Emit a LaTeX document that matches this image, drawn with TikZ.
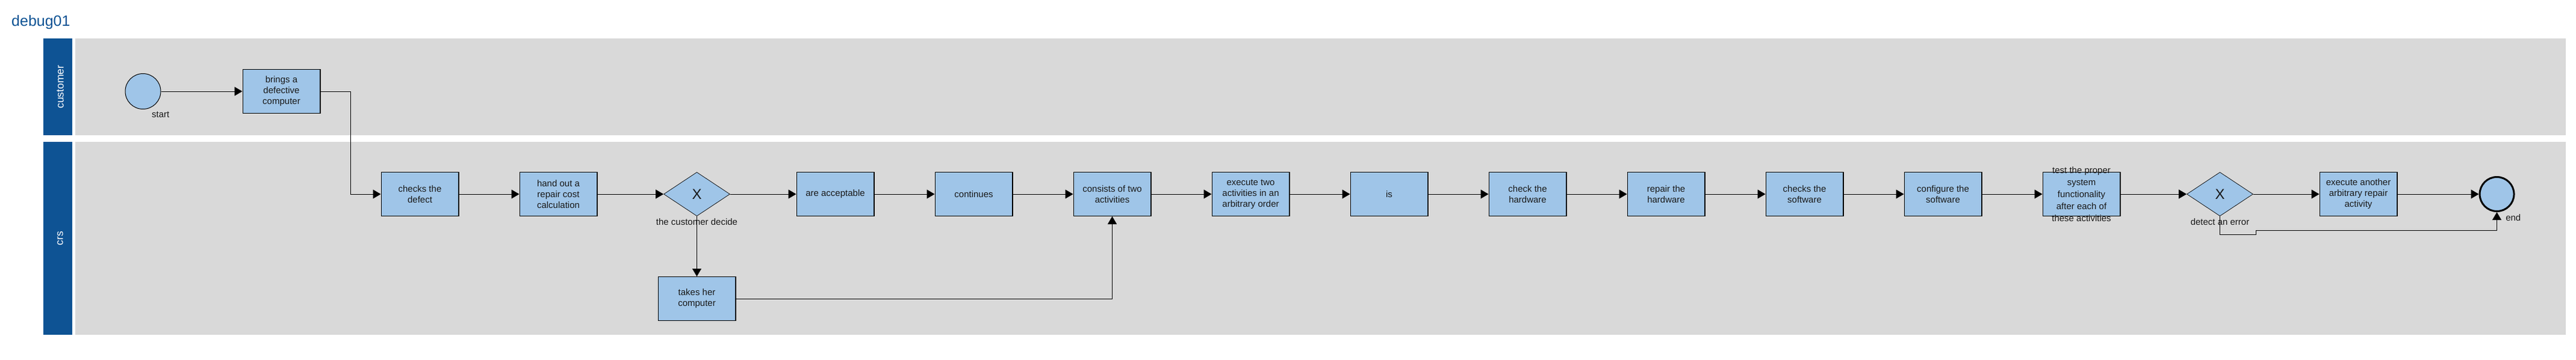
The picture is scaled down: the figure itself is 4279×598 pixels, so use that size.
\documentclass[tikz,border=0pt]{standalone}
\usepackage{fontspec}
\setmainfont{Liberation Sans}
\usetikzlibrary{arrows.meta,shapes.geometric}
\definecolor{laneblue}{RGB}{14,83,148}
\definecolor{lanegray}{RGB}{217,217,217}
\definecolor{taskblue}{RGB}{159,197,232}
\begin{document}
\begin{tikzpicture}[x=1pt,y=-1pt,
  lanehead/.style={fill=laneblue, draw=none},
  lanebody/.style={fill=lanegray, draw=none},
  task/.style={rectangle, draw=black, line width=1.4pt, fill=taskblue, minimum width=128.6pt, minimum height=72.6pt, inner sep=0pt, align=center, font=\fontsize{15}{18}\selectfont, text=black!90},
  gate/.style={diamond, draw=black, line width=0.7pt, fill=taskblue, minimum width=110pt, minimum height=73pt, inner sep=0pt, font=\fontsize{24}{24}\selectfont, text=black!90},
  startev/.style={circle, draw=black, line width=1pt, fill=taskblue, minimum size=59pt, inner sep=0pt},
  endev/.style={circle, draw=black, line width=3pt, fill=taskblue, minimum size=57pt, inner sep=0pt},
  flow/.style={draw=black, line width=1pt, -{Triangle[length=13pt,width=15pt]}},
  lbl/.style={font=\fontsize{15}{18}\selectfont, inner sep=0pt, text=black!90},
  lanetext/.style={text=white, font=\fontsize{17.5}{20}\selectfont, rotate=90, inner sep=0pt},
  titletext/.style={text=laneblue, font=\fontsize{25}{30}\selectfont, inner sep=0pt, anchor=base west}
]
\useasboundingbox[fill=white] (0,0) rectangle (4279,598);

% title
\node[titletext] (title) at (19,43) {debug01};

% lanes
\fill[lanehead] (72,64) rectangle (120,225);
\fill[lanebody] (125,64) rectangle (4262,225);
\fill[lanehead] (72,236) rectangle (120,557);
\fill[lanebody] (125,236) rectangle (4262,557);
\node[lanetext] (custlbl) at (100,144.5) {customer};
\node[lanetext] (crslbl) at (100,396.5) {crs};

% customer lane
\node[startev] (start) at (237.5,152) {};
\node[lbl, anchor=base west] (startlbl) at (252,195) {start};
\node[task] (brings) at (467.5,152) {brings a\\defective\\computer};

% crs lane
\node[task] (checks) at (697.5,323) {checks the\\defect};
\node[task] (handout) at (927.5,323) {hand out a\\repair cost\\calculation};
\node[gate] (gw1) at (1157.5,323) {X};
\node[lbl, anchor=base] (gw1lbl) at (1157.5,374) {the customer decide};
\node[task] (takes) at (1157.5,497) {takes her\\computer};
\node[task] (accept) at (1387.5,323) {are acceptable};
\node[task] (cont) at (1617.5,323) {continues};
\node[task] (consists) at (1847.5,323) {consists of two\\activities};
\node[task] (exectwo) at (2077.5,323) {execute two\\activities in an\\arbitrary order};
\node[task] (is) at (2307.5,323) {is};
\node[task] (checkhw) at (2537.5,323) {check the\\hardware};
\node[task] (repair) at (2767.5,323) {repair the\\hardware};
\node[task] (checksw) at (2997.5,323) {checks the\\software};
\node[task] (config) at (3227.5,323) {configure the\\software};
\node[task, label={[lbl, align=center, font=\fontsize{15}{20}\selectfont]center:test the proper\\system\\functionality\\after each of\\these activities}] (test) at (3457.5,323) {};
\node[gate] (gw2) at (3687.5,323) {X};
\node[lbl, anchor=base] (gw2lbl) at (3687.5,374) {detect an error};
\node[task] (another) at (3917.5,323) {execute another\\arbitrary repair\\activity};
\node[endev] (end) at (4147.5,323) {};
\node[lbl, anchor=base west] (endlbl) at (4162,367) {end};

% connectors
\draw[flow] (start) -- (brings);
\draw[flow] (brings.east) -- ++(50,0) |- (checks.west);
\draw[flow] (checks) -- (handout);
\draw[flow] (handout) -- (gw1.west);
\draw[flow] (gw1.east) -- (accept);
\draw[flow] (gw1.south) -- (takes.north);
\draw[flow] (takes.east) -| (consists.south);
\draw[flow] (accept) -- (cont);
\draw[flow] (cont) -- (consists);
\draw[flow] (consists) -- (exectwo);
\draw[flow] (exectwo) -- (is);
\draw[flow] (is) -- (checkhw);
\draw[flow] (checkhw) -- (repair);
\draw[flow] (repair) -- (checksw);
\draw[flow] (checksw) -- (config);
\draw[flow] (config) -- (test);
\draw[flow] (test) -- (gw2.west);
\draw[flow] (gw2.east) -- (another);
\draw[flow] (another) -- (end);
\draw[flow] (gw2.south) -- ++(0,30.5) -- ++(59.5,0) -- ++(0,-7) -| (end.south);
\end{tikzpicture}
\end{document}
